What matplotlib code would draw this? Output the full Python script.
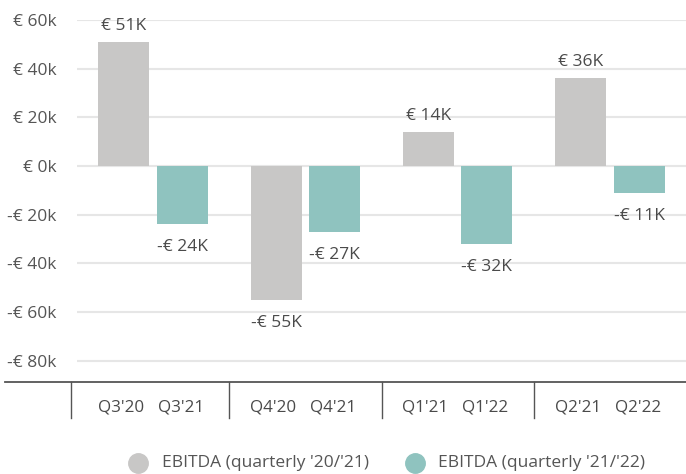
import matplotlib
matplotlib.use("Agg")
import matplotlib.pyplot as plt
from matplotlib.lines import Line2D
import matplotlib.transforms as mtransforms

plt.rcParams['font.family'] = ['Open Sans', 'DejaVu Sans']

# ---- data ----
labels_prev = ["Q3'20", "Q4'20", "Q1'21", "Q2'21"]
labels_curr = ["Q3'21", "Q4'21", "Q1'22", "Q2'22"]
ebitda_prev = [51, -55, 14, 36]     # in k€
ebitda_curr = [-24, -27, -32, -11]  # in k€
series_names = ["EBITDA (quarterly '20/'21)", "EBITDA (quarterly '21/'22)"]
yticks = [-80, -60, -40, -20, 0, 20, 40, 60]

# ---- styling ----
W, H = 686, 474
C_PREV = "#c8c7c6"
C_CURR = "#8fc3bf"
TXT = "#4a4a4a"
TICK = "#555555"
GRID = "#e6e6e6"
FS = 12.5

fig = plt.figure(figsize=(W / 100, H / 100), dpi=100)
fx = lambda px: px / W
fy = lambda py: 1 - py / H

left, right, top, bottom = 77, 686, 20, 382
ax = fig.add_axes([fx(left), fy(bottom), fx(right - left), fy(top) - fy(bottom)])

n = len(labels_prev)
xs = list(range(n))
off = 0.192
bw = 0.335

ax.bar([x - off for x in xs], ebitda_prev, width=bw, color=C_PREV, zorder=3)
ax.bar([x + off for x in xs], ebitda_curr, width=bw, color=C_CURR, zorder=3)

ax.set_xlim(-0.5, n - 0.5)
ax.set_ylim(-88.8, 60)
ax.set_yticks(yticks)
ax.set_yticklabels([("€ %dk" % v) if v >= 0 else ("-€ %dk" % -v) for v in yticks])
ax.tick_params(axis='y', length=0, pad=14.5, labelsize=FS, labelcolor=TICK)
ax.set_xticks([])
ax.grid(axis='y', color=GRID, linewidth=1.5, zorder=0)
for s in ax.spines.values():
    s.set_visible(False)


def fmt(v):
    return ("€ %dK" % v) if v >= 0 else ("-€ %dK" % -v)


for vals, sign in ((ebitda_prev, -1), (ebitda_curr, 1)):
    for x, v in zip(xs, vals):
        bx = x + sign * off
        if v >= 0:
            ax.annotate(fmt(v), (bx, v), xytext=(0, 8.6), textcoords='offset points',
                        ha='center', va='baseline', fontsize=FS, color=TXT,
                        annotation_clip=False)
        else:
            ax.annotate(fmt(v), (bx, v), xytext=(0, -10.8), textcoords='offset points',
                        ha='center', va='top', fontsize=FS, color=TXT,
                        annotation_clip=False)

# category axis
trans = mtransforms.blended_transform_factory(ax.transData, fig.transFigure)
for x, a, b in zip(xs, labels_prev, labels_curr):
    fig.text(0, 0, a, transform=trans, fontsize=FS * 0.98, color=TXT, ha='center', va='baseline').set_position((x - off - 0.02, fy(412)))
    fig.text(0, 0, b, transform=trans, fontsize=FS * 0.98, color=TXT, ha='center', va='baseline').set_position((x + off - 0.01, fy(412)))

fig.add_artist(Line2D([fx(5), fx(686)], [fy(382), fy(382)], transform=fig.transFigure,
                      color="#555555", linewidth=1.3))
fig.add_artist(Line2D([fx(71), fx(71)], [fy(382), fy(418)], transform=fig.transFigure,
                      color="#555555", linewidth=1.0))
for bnd in [i + 0.5 for i in range(n - 1)]:
    fig.add_artist(Line2D([bnd, bnd], [fy(382), fy(418)], transform=trans,
                          color="#555555", linewidth=1.0))

# legend
for cx, tx, col, name in ((138, 162, C_PREV, series_names[0]), (415, 438, C_CURR, series_names[1])):
    fig.add_artist(Line2D([fx(cx)], [fy(463)], transform=fig.transFigure, marker='o',
                          markersize=14, color=col, linestyle='none'))
    fig.text(fx(tx), fy(463), name, fontsize=FS, color=TICK, ha='left', va='center')

fig.savefig("out.png", dpi=100)
